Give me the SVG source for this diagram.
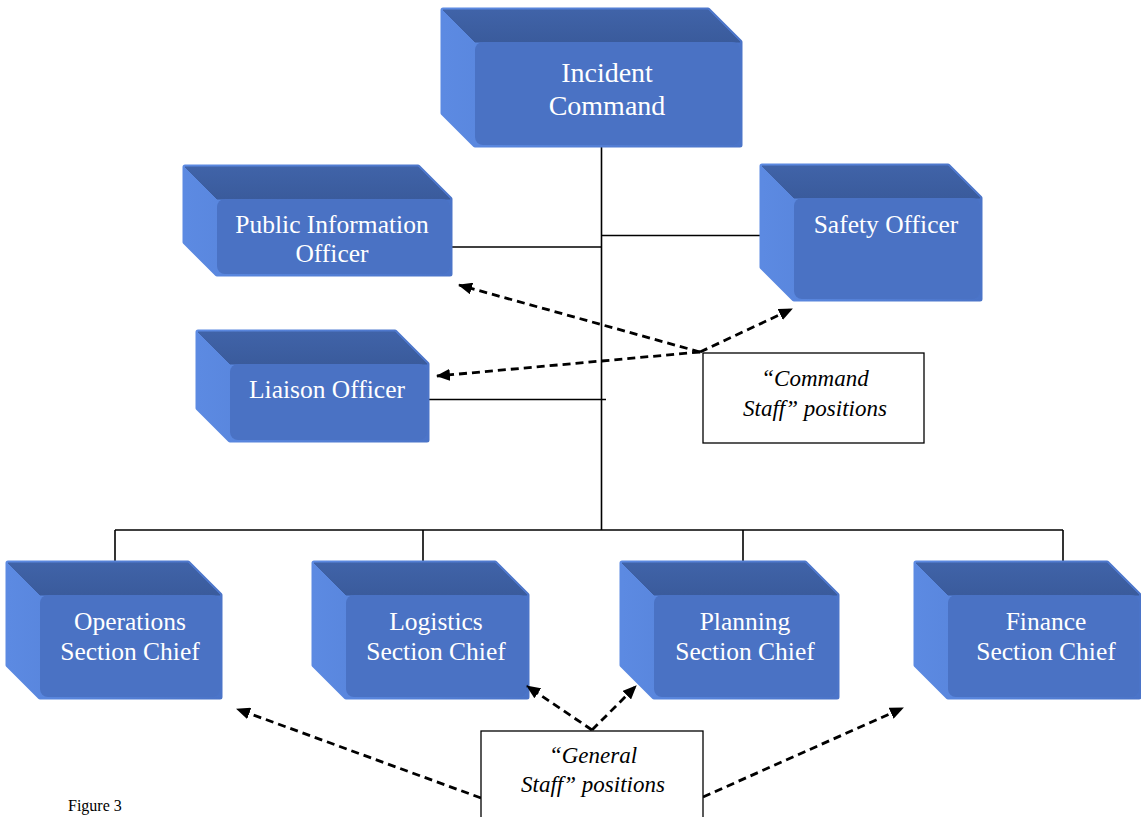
<svg xmlns="http://www.w3.org/2000/svg" width="1141" height="817" viewBox="0 0 1141 817">
<defs>
<linearGradient id="side" x1="0" y1="0" x2="1" y2="0">
<stop offset="0" stop-color="#5c8ae2"/>
<stop offset="1" stop-color="#4b74c8"/>
</linearGradient>
<linearGradient id="top" x1="0" y1="0" x2="0" y2="1">
<stop offset="0" stop-color="#4063a8"/>
<stop offset="1" stop-color="#3a5b9c"/>
</linearGradient>
<marker id="ah" viewBox="0 0 14 12" refX="13" refY="6" markerWidth="14" markerHeight="12" markerUnits="userSpaceOnUse" orient="auto">
<path d="M0,0 L14,6 L0,12 Z" fill="#000"/>
</marker>
</defs>
<style>
.sil{fill:url(#side);stroke:url(#side);stroke-width:5;stroke-linejoin:round}
.topf{fill:url(#top);stroke:url(#top);stroke-width:1;stroke-linejoin:round}
.front{fill:#4a72c4}
.nt{font-family:"Liberation Serif","Times New Roman",serif;fill:#ffffff;font-size:25.5px;text-anchor:middle}
.big{font-size:28px}
.ln{stroke:#000;stroke-width:1.6;fill:none}
.da{stroke:#000;stroke-width:2.8;fill:none;stroke-dasharray:8 5;marker-end:url(#ah)}
.lbl{fill:#fff;stroke:#000;stroke-width:1.3}
.lt{font-family:"Liberation Serif","Times New Roman",serif;font-style:italic;font-size:23px;fill:#000;text-anchor:middle}
</style>
<rect width="1141" height="817" fill="#fff"/>

<g id="connectors">
<path class="ln" d="M601.5,145 V530"/>
<path class="ln" d="M452,247 H601.5"/>
<path class="ln" d="M601.5,235.5 H768"/>
<path class="ln" d="M427,399.5 H606"/>
<path class="ln" d="M115,530 H1063"/>
<path class="ln" d="M115,530 V568"/>
<path class="ln" d="M423,530 V568"/>
<path class="ln" d="M743,530 V568"/>
<path class="ln" d="M1063,530 V568"/>
</g>

<g id="incident-command">
<path class="sil" d="M443,10 H708 L740,42 V145 H475 L443,113 Z"/>
<polygon class="topf" points="443,10 708,10 740,42 475,42"/>
<rect class="front" x="475" y="42" width="265" height="103" rx="8"/>
<text class="nt big" x="607" y="82">Incident</text>
<text class="nt big" x="607" y="115">Command</text>
</g>

<g id="public-information-officer">
<path class="sil" d="M185,167 H418 L450,199 V274 H217 L185,242 Z"/>
<polygon class="topf" points="185,167 418,167 450,199 217,199"/>
<rect class="front" x="217" y="199" width="233" height="75" rx="8"/>
<text class="nt" x="332" y="233">Public Information</text>
<text class="nt" x="332" y="262">Officer</text>
</g>

<g id="safety-officer">
<path class="sil" d="M762,166 H948 L980,198 V299 H794 L762,267 Z"/>
<polygon class="topf" points="762,166 948,166 980,198 794,198"/>
<rect class="front" x="794" y="198" width="186" height="101" rx="8"/>
<text class="nt" x="886" y="233">Safety Officer</text>
</g>

<g id="liaison-officer">
<path class="sil" d="M198,332 H395 L427,364 V440 H230 L198,408 Z"/>
<polygon class="topf" points="198,332 395,332 427,364 230,364"/>
<rect class="front" x="230" y="364" width="197" height="76" rx="8"/>
<text class="nt" x="327" y="398">Liaison Officer</text>
</g>

<g id="operations-section-chief">
<path class="sil" d="M8,563 H188 L220,595 V697 H40 L8,665 Z"/>
<polygon class="topf" points="8,563 188,563 220,595 40,595"/>
<rect class="front" x="40" y="595" width="180" height="102" rx="8"/>
<text class="nt" x="130" y="630">Operations</text>
<text class="nt" x="130" y="660">Section Chief</text>
</g>

<g id="logistics-section-chief">
<path class="sil" d="M314,563 H495 L527,595 V697 H346 L314,665 Z"/>
<polygon class="topf" points="314,563 495,563 527,595 346,595"/>
<rect class="front" x="346" y="595" width="181" height="102" rx="8"/>
<text class="nt" x="436" y="630">Logistics</text>
<text class="nt" x="436" y="660">Section Chief</text>
</g>

<g id="planning-section-chief">
<path class="sil" d="M622,563 H805 L837,595 V697 H654 L622,665 Z"/>
<polygon class="topf" points="622,563 805,563 837,595 654,595"/>
<rect class="front" x="654" y="595" width="183" height="102" rx="8"/>
<text class="nt" x="745" y="630">Planning</text>
<text class="nt" x="745" y="660">Section Chief</text>
</g>

<g id="finance-section-chief">
<path class="sil" d="M916,563 H1107 L1139,595 V697 H948 L916,665 Z"/>
<polygon class="topf" points="916,563 1107,563 1139,595 948,595"/>
<rect class="front" x="948" y="595" width="191" height="102" rx="8"/>
<text class="nt" x="1046" y="630">Finance</text>
<text class="nt" x="1046" y="660">Section Chief</text>
</g>

<g id="arrows">
<path class="da" d="M700,352 L459,285"/>
<path class="da" d="M700,352 L792,309"/>
<path class="da" d="M700,352 L437,376"/>
<path class="da" d="M592,730 L527,686"/>
<path class="da" d="M592,730 L636,686"/>
<path class="da" d="M481,798 L237,709"/>
<path class="da" d="M703,797 L903,708"/>
</g>

<g id="command-staff-label">
<rect class="lbl" x="703" y="353" width="221" height="90"/>
<text class="lt" x="815" y="386">“Command</text>
<text class="lt" x="815" y="416">Staff” positions</text>
</g>

<g id="general-staff-label">
<rect class="lbl" x="481" y="731" width="222" height="100"/>
<text class="lt" x="593" y="763">“General</text>
<text class="lt" x="593" y="792">Staff” positions</text>
</g>

<text x="68" y="811" font-family="'Liberation Serif','Times New Roman',serif" font-size="16" fill="#000">Figure 3</text>
</svg>
